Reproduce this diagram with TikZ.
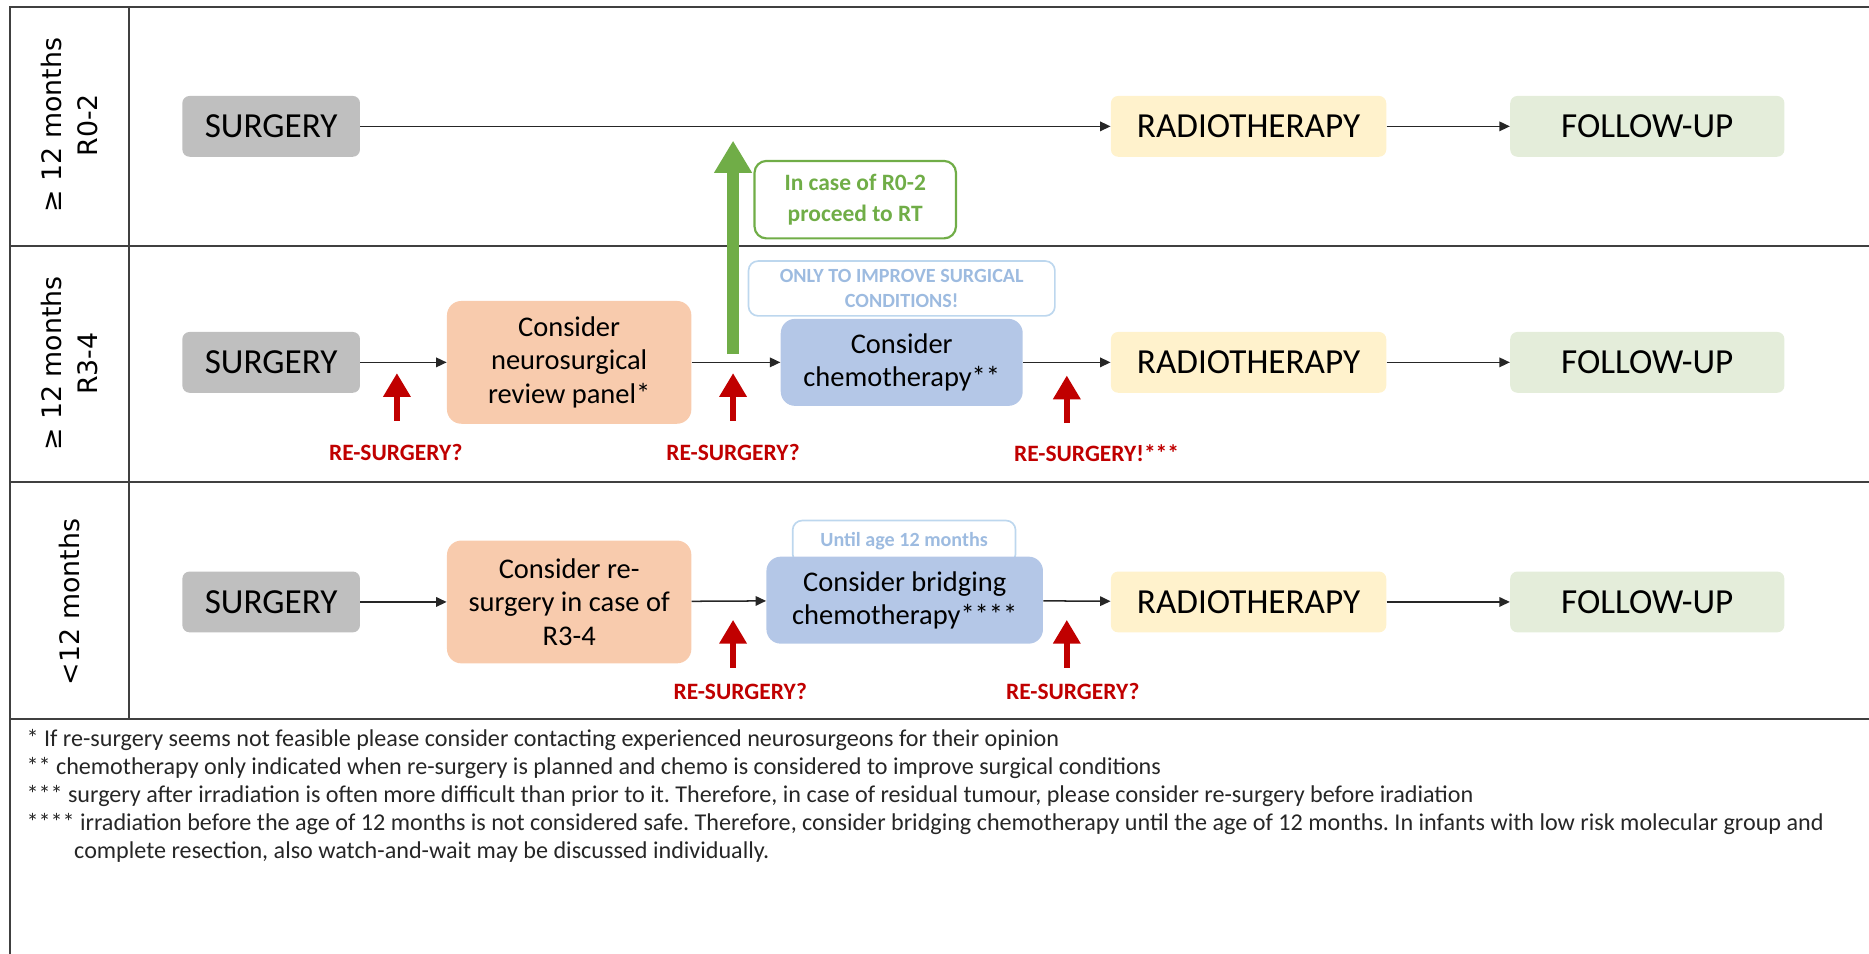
\documentclass[tikz,border=0pt]{standalone}
\usepackage{fontspec}
\setmainfont{Carlito}
\newfontfamily\rowfont{DejaVu Sans}
\usetikzlibrary{arrows.meta}

\definecolor{surggrey}{HTML}{BFBFBF}
\definecolor{rtyellow}{HTML}{FFF2CC}
\definecolor{fugreen}{HTML}{E4EDDA}
\definecolor{revorange}{HTML}{F8CBAD}
\definecolor{chemoblue}{HTML}{B4C7E7}
\definecolor{proceedgreen}{HTML}{70AD47}
\definecolor{hintblue}{HTML}{BDD7EE}
\definecolor{hinttext}{HTML}{9DBBE0}
\definecolor{resurg}{HTML}{C00000}
\definecolor{framegrey}{HTML}{404040}

\frenchspacing

\begin{document}
\begin{tikzpicture}[x=0.25mm, y=-0.25mm,
    stage/.style={rounded corners=1.5mm, inner sep=0pt, minimum height=12.75mm,
      font=\fontsize{21}{25}\selectfont},
    consider/.style={rounded corners=3mm, inner sep=0pt, align=center,
      font=\fontsize{17}{20}\selectfont},
    hint/.style={draw=hintblue, line width=1pt, rounded corners=2mm, inner sep=0pt,
      align=center, text=hinttext, font=\bfseries\fontsize{12}{15}\selectfont},
    flow/.style={draw=black!85, line width=0.9pt, -{Triangle[length=2.2mm,width=2mm]}},
    redo/.style={draw=resurg, line width=1.25mm, -{Triangle[length=5mm,width=5.5mm]}},
    redolabel/.style={text=resurg, inner sep=0pt, font=\bfseries\fontsize{14}{16}\selectfont},
    rowlabel/.style={rotate=90, align=center, inner sep=0pt,
      font=\rowfont\fontsize{16}{21.5}\selectfont},
    foot/.style={anchor=base west, inner sep=0pt, text=black!85,
      font=\fontsize{14.4}{16}\selectfont}]

    \useasboundingbox (0,0) rectangle (1568,800);

    % frame
    \draw[framegrey, line width=1.2pt] (8,800) -- (8,5.5) -- (1568,5.5);
    \draw[framegrey, line width=1.2pt] (108.5,5.5) -- (108.5,603)
    (8,206) -- (1568,206) (8,404) -- (1568,404) (8,603) -- (1568,603);

    \node[rowlabel] (lab1) at (58,105) {≥ 12 months\\R0-2};
    \node[rowlabel] (lab2) at (58,305) {≥ 12 months\\R3-4};
    \node[rowlabel] (lab3) at (58,505) {<12 months};

    % row 1
    \node[stage, fill=surggrey, minimum width=37.25mm] (surg1) at (227.5,106) {SURGERY};
    \node[stage, fill=rtyellow, minimum width=57.75mm] (rt1) at (1047.5,106) {RADIOTHERAPY};
    \node[stage, fill=fugreen, minimum width=57.5mm] (fu1) at (1382,106) {FOLLOW-UP};
    \draw[flow] (surg1) -- (rt1);
    \draw[flow] (rt1) -- (fu1);

    % row 2
    \node[stage, fill=surggrey, minimum width=37.25mm] (surg2) at (227.5,304) {SURGERY};
    \node[consider, fill=revorange, minimum width=51.25mm, minimum height=25.75mm]
      (panel2) at (477.5,304) {Consider\\neurosurgical\\review panel*};
    \node[hint, minimum width=64.25mm, minimum height=11.5mm] (only2) at (756.5,242)
      {ONLY TO IMPROVE SURGICAL\\CONDITIONS!};
    \node[consider, fill=chemoblue, minimum width=50.75mm, minimum height=18.25mm]
      (chemo2) at (756.5,304) {Consider\\chemotherapy**};
    \node[stage, fill=rtyellow, minimum width=57.75mm] (rt2) at (1047.5,304) {RADIOTHERAPY};
    \node[stage, fill=fugreen, minimum width=57.5mm] (fu2) at (1382,304) {FOLLOW-UP};
    \draw[flow] (surg2) -- (panel2);
    \draw[flow] (panel2) -- (chemo2);
    \draw[flow] (chemo2) -- (rt2);
    \draw[flow] (rt2) -- (fu2);

    \node[draw=proceedgreen, line width=1.3pt, rounded corners=2.5mm, inner sep=0pt,
      minimum width=42.25mm, minimum height=16.25mm, align=center, text=proceedgreen,
      font=\bfseries\fontsize{14}{19}\selectfont] (proceed) at (717.5,167.5)
      {In case of R0-2\\proceed to RT};
    \coordinate (gbase) at (615,297);
    \coordinate (gtip) at (615,118);
    \draw[draw=proceedgreen, line width=2.65mm,
      -{Triangle[length=6.75mm,width=7.5mm]}] (gbase) -- (gtip);

    % row 3
    \node[stage, fill=surggrey, minimum width=37.25mm] (surg3) at (227.5,505) {SURGERY};
    \node[consider, fill=revorange, minimum width=51.25mm, minimum height=25.75mm]
      (panel3) at (477.5,505) {Consider re-\\surgery in case of\\R3-4};
    \node[hint, minimum width=46.75mm, minimum height=9mm, anchor=north] (until3)
      at (758.5,436) {\raisebox{1.2mm}{Until age 12 months}};
    \node[consider, fill=chemoblue, minimum width=58mm, minimum height=18.25mm]
      (chemo3) at (759,503.5) {Consider bridging\\chemotherapy****};
    \node[stage, fill=rtyellow, minimum width=57.75mm] (rt3) at (1047.5,505) {RADIOTHERAPY};
    \node[stage, fill=fugreen, minimum width=57.5mm] (fu3) at (1382,505) {FOLLOW-UP};
    \draw[flow] (surg3) -- (panel3);
    \draw[flow] (panel3) -- (chemo3);
    \draw[flow] (chemo3) -- (rt3);
    \draw[flow] (rt3) -- (fu3);

    % re-surgery markers
    \node[redolabel] (re21) at (332,380) {RE-SURGERY?};
    \node[redolabel] (re22) at (615,380) {RE-SURGERY?};
    \node[redolabel] (re23) at (920,380) {RE-SURGERY!***};
    \node[redolabel] (re31) at (621,580) {RE-SURGERY?};
    \node[redolabel] (re32) at (900,580) {RE-SURGERY?};
    \foreach \name/\x/\y in {a21/333/353, a22/615/353, a23/895/355, a31/615/560, a32/895/560}
      \draw[redo] (\x,\y) coordinate (\name) -- ++(0,-40);

    % footnotes
    \node[foot] (fn1) at (22,626) {* If re-surgery seems not feasible please consider contacting experienced neurosurgeons for their opinion};
    \node[foot] (fn2) at (22,650) {** chemotherapy only indicated when re-surgery is planned and chemo is considered to improve surgical conditions};
    \node[foot] (fn3) at (22,673) {*** surgery after irradiation is often more difficult than prior to it. Therefore, in case of residual tumour, please consider re-surgery before iradiation};
    \node[foot] (fn4) at (22,697) {**** irradiation before the age of 12 months is not considered safe. Therefore, consider bridging chemotherapy until the age of 12 months. In infants with low risk molecular group and};
    \node[foot] (fn4b) at (62,720) {complete resection, also watch-and-wait may be discussed individually.};

  \end{tikzpicture}
\end{document}
